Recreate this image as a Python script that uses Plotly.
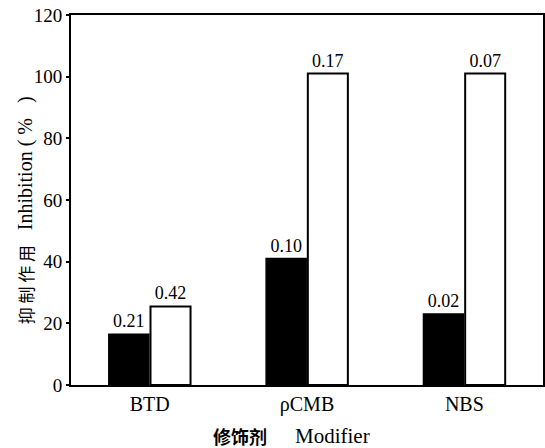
import plotly.graph_objects as go

categories = ["BTD", "ρCMB", "NBS"]
black_values = [16.5, 41, 23]
white_values = [25.5, 101, 101]
black_labels = ["0.21", "0.10", "0.02"]
white_labels = ["0.42", "0.17", "0.07"]
y_ticks = [0, 20, 40, 60, 80, 100, 120]

serif = "Liberation Serif, Times New Roman, serif"
cjk = "Noto Sans CJK SC"

fig = go.Figure()
fig.add_trace(go.Bar(
    x=categories, y=black_values, text=black_labels, textposition="outside",
    marker=dict(color="black", line=dict(color="black", width=1.5)),
    textfont=dict(family=serif, size=18, color="black"), cliponaxis=False,
))
fig.add_trace(go.Bar(
    x=categories, y=white_values, text=white_labels, textposition="outside",
    marker=dict(color="white", line=dict(color="black", width=2)),
    textfont=dict(family=serif, size=18, color="black"), cliponaxis=False,
))

fig.update_layout(
    width=545, height=448,
    margin=dict(l=71, r=2, t=15, b=63, autoexpand=False),
    paper_bgcolor="white", plot_bgcolor="white",
    barmode="group", bargap=0.47, bargroupgap=0.04,
    showlegend=False,
    font=dict(family=serif, size=19, color="black"),
)
fig.update_xaxes(
    showline=True, linecolor="black", linewidth=2, mirror=True,
    ticks="", showgrid=False, automargin=False,
    tickfont=dict(family=serif, size=20, color="black"),
)
fig.update_yaxes(
    range=[0, 120], tickvals=y_ticks,
    showline=True, linecolor="black", linewidth=2, mirror=True,
    ticks="outside", ticklen=3, tickwidth=1.5, tickcolor="black",
    showgrid=False, zeroline=False, automargin=False,
    tickfont=dict(family=serif, size=19, color="black"),
)
# y-axis title: CJK part and Latin part
fig.add_annotation(
    text="抑 制 作 用",
    xref="paper", yref="paper", x=-0.097, y=0.27, textangle=-90,
    showarrow=False, xanchor="center", yanchor="middle",
    font=dict(family=cjk, size=17, color="black"),
)
fig.add_annotation(
    text="Inhibition ( %   )",
    xref="paper", yref="paper", x=-0.097, y=0.60, textangle=-90,
    showarrow=False, xanchor="center", yanchor="middle",
    font=dict(family=serif, size=20, color="black"),
)
# x-axis title
fig.add_annotation(
    text="<b>修饰剂</b>",
    x=0.358, y=-0.138, xref="paper", yref="paper",
    showarrow=False, xanchor="center", yanchor="middle",
    font=dict(family=cjk, size=18, color="black"),
)
fig.add_annotation(
    text="Modifier",
    x=0.553, y=-0.138, xref="paper", yref="paper",
    showarrow=False, xanchor="center", yanchor="middle",
    font=dict(family=serif, size=21, color="black"),
)

fig.write_html(
    "out.html",
    config={"displayModeBar": False},
    post_script="document.body.style.margin='0';document.body.style.overflow='hidden';",
)
